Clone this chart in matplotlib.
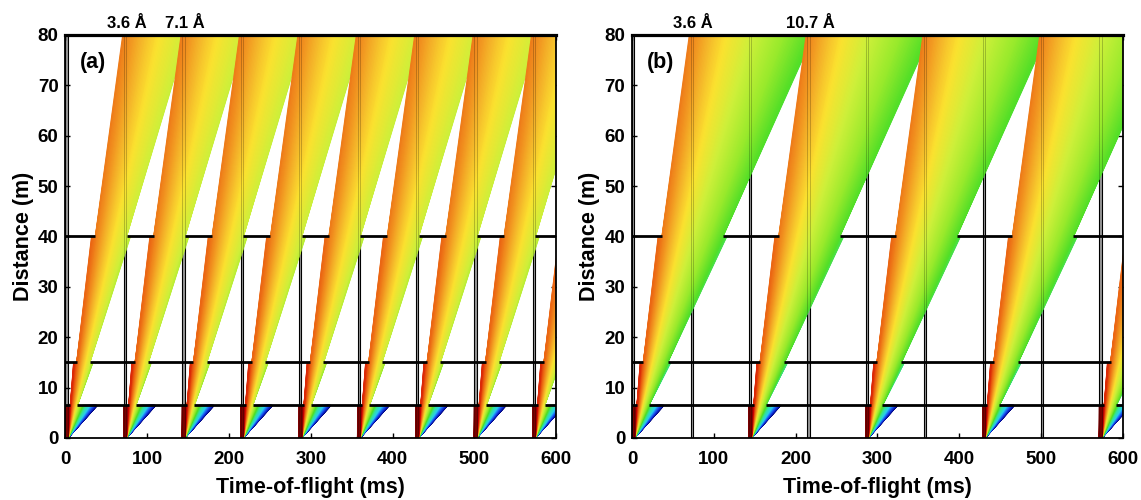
import numpy as np
import matplotlib
matplotlib.use("Agg")
import matplotlib.pyplot as plt
from matplotlib.collections import LineCollection
from matplotlib.colors import LinearSegmentedColormap, Normalize

plt.rcParams["font.family"] = ["Liberation Sans", "DejaVu Sans"]
plt.rcParams["font.weight"] = "bold"

# ---- instrument timing -------------------------------------------------
K_MS = 0.25278                 # flight time per metre per Angstrom (ms)
frame_period = 1000.0 / 14.0   # source repetition period (ms)
pulse_len = 2.86               # source pulse length (ms)
n_frames = 9
chopper_dist = [6.5, 15.0, 40.0]   # chopper positions (m)
detector_dist = 80.0               # detector position (m)

# ---- the two operating modes ------------------------------------------
panel_tags = ["(a)", "(b)"]
wl_bands = [(3.6, 7.1), (3.6, 10.7)]      # transmitted band (Angstrom)
frame_step = [1, 2]                       # every frame / every second frame
band_text = [["3.6 Å", "7.1 Å"], ["3.6 Å", "10.7 Å"]]

x_ticks = [0, 100, 200, 300, 400, 500, 600]
y_ticks = [0, 10, 20, 30, 40, 50, 60, 70, 80]

# wavelength colour scale
wl_anchor = [0.0, 1.2, 2.6, 3.6, 4.5, 5.5, 7.1, 9.0, 10.7, 13.0, 16.0, 19.0, 21.0, 22.0]
wl_colour = ["#7a0000", "#d00000", "#ea5a10", "#f08c1e", "#f5b82a", "#fbe22f",
             "#cdf03a", "#98ea2c", "#52df27", "#35e3a8", "#2ad2f4", "#1a4cf0",
             "#0818b0", "#00006e"]

wl_max = 22.0
wl_grid = np.arange(0.02, wl_max, 0.03)
t0_offsets = np.linspace(0.0, pulse_len, 4)

norm = Normalize(0.0, wl_max)
cmap = LinearSegmentedColormap.from_list(
    "wl", list(zip(np.array(wl_anchor) / wl_max, wl_colour)))

frame_starts = [i * frame_period for i in range(n_frames)]


def chopper_windows(band, used):
    lo, hi = band
    return {d: [(s + K_MS * d * lo, s + pulse_len + K_MS * d * hi) for s in used]
            for d in chopper_dist}


def draw_panel(ax, tag, band, step, texts):
    used = frame_starts[::step]
    windows = chopper_windows(band, used)

    # pulse markers (start and end of each source pulse)
    for s in frame_starts:
        ax.axvspan(s, s + pulse_len, color="0.6", lw=0, zorder=0.8)
        for x in (s, s + pulse_len):
            ax.axvline(x, color="black", lw=0.8, zorder=1)
            ax.axvline(x, color="black", lw=0.6, alpha=0.25, zorder=3)

    # neutron trajectories
    segs, cols = [], []
    for s in used:
        T0, WL = np.meshgrid(s + t0_offsets, wl_grid)
        T0 = T0.ravel()
        WL = WL.ravel()
        end = np.full(T0.shape, detector_dist)
        alive = np.ones(T0.shape, bool)
        for d in chopper_dist:
            t = T0 + K_MS * d * WL
            is_open = np.zeros(T0.shape, bool)
            for a, b in windows[d]:
                is_open |= (t >= a) & (t <= b)
            stop = alive & ~is_open
            end[stop] = d
            alive &= is_open
        t_end = T0 + K_MS * end * WL
        seg = np.stack([np.stack([T0, np.zeros_like(T0)], 1),
                        np.stack([t_end, end], 1)], 1)
        segs.append(seg)
        cols.append(WL)
    segs = np.concatenate(segs)
    cols = np.concatenate(cols)
    order = np.argsort(-cols, kind="stable")   # short wavelengths drawn last
    lc = LineCollection(segs[order], colors=cmap(norm(cols[order])),
                        linewidths=0.8, zorder=2)
    ax.add_collection(lc)

    # choppers: closed everywhere except the windows
    for d in chopper_dist:
        w = sorted(windows[d])
        xs, xe = [], []
        cur = 0.0
        for a, b in w:
            if a > cur:
                xs.append(cur)
                xe.append(min(a, 600))
            cur = max(cur, b)
        if cur < 600:
            xs.append(cur)
            xe.append(600)
        ax.hlines([d] * len(xs), xs, xe, color="black", lw=2.0, zorder=4)

    ax.set_xlim(0, 600)
    ax.set_ylim(0, 80)
    ax.set_xticks(x_ticks)
    ax.set_yticks(y_ticks)
    ax.tick_params(direction="in", top=True, right=True, length=3.5,
                   width=1.0, labelsize=13.5)
    ax.tick_params(axis="x", pad=9)
    ax.tick_params(axis="y", pad=5)
    for sp in ("left", "right", "bottom"):
        ax.spines[sp].set_linewidth(1.3)
    ax.spines["top"].set_linewidth(2.3)
    ax.spines["top"].set_zorder(5)

    ax.set_xlabel("Time-of-flight (ms)", fontsize=15.5, fontweight="bold", labelpad=7)
    ax.set_ylabel("Distance (m)", fontsize=15.5, fontweight="bold", labelpad=3)
    ax.text(0.03, 0.933, tag, transform=ax.transAxes, fontsize=15.5,
            fontweight="bold", ha="left", va="center", zorder=6)

    for wl, txt in zip(band, texts):
        ax.annotate(txt, (K_MS * detector_dist * wl + 2.0, detector_dist),
                    xytext=(0, 3), textcoords="offset points",
                    ha="center", va="bottom", fontsize=12, fontweight="bold",
                    annotation_clip=False)


fig = plt.figure(figsize=(11.41, 5.0), dpi=100)
ax_a = fig.add_axes([0.0574, 0.124, 0.430, 0.806])
ax_b = fig.add_axes([0.5540, 0.124, 0.430, 0.806])

for ax, tag, band, step, texts in zip((ax_a, ax_b), panel_tags, wl_bands,
                                      frame_step, band_text):
    draw_panel(ax, tag, band, step, texts)

fig.savefig("out.png", dpi=100)
